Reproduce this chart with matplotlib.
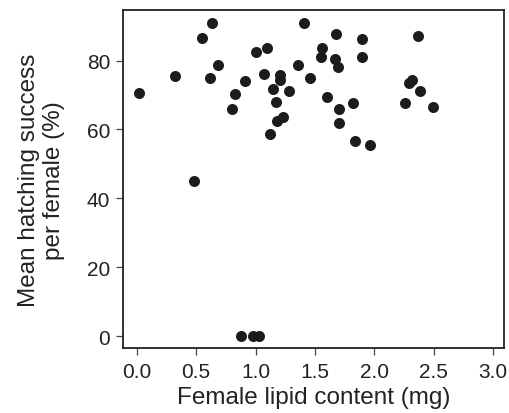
import numpy as np
import matplotlib.pyplot as plt

plt.rcParams['font.family'] = ['Liberation Sans', 'DejaVu Sans']

# Female lipid content (mg) and mean hatching success (%)
lipid = np.array([0.63, 0.55, 1.41, 1.00, 1.10, 1.56, 1.55, 0.68, 0.32, 0.62,
                  1.36, 1.07, 0.91, 1.21, 1.21, 1.46, 0.02, 0.83, 1.15, 1.28,
                  1.60, 1.17, 0.80, 1.23, 1.18, 1.12, 0.48, 1.68, 1.90, 2.37,
                  1.67, 1.69, 1.90, 2.32, 2.29, 2.38, 1.82, 1.70, 2.26, 2.49,
                  1.70, 1.84, 1.96, 0.88, 0.98, 1.03])
hatching = np.array([90.8, 86.6, 90.9, 82.5, 83.5, 83.6, 81.0, 78.8, 75.4, 75.0,
                     78.7, 76.1, 74.2, 75.9, 74.3, 74.9, 70.7, 70.3, 71.7, 71.2,
                     69.3, 67.9, 65.8, 63.7, 62.4, 58.8, 45.0, 87.8, 86.2, 87.2,
                     80.4, 78.2, 81.0, 74.4, 73.6, 71.2, 67.8, 65.8, 67.6, 66.5,
                     61.8, 56.7, 55.5, 0.0, 0.0, 0.0])

x_ticks = [0.0, 0.5, 1.0, 1.5, 2.0, 2.5, 3.0]
y_ticks = [0, 20, 40, 60, 80]

fig = plt.figure(figsize=(5.1, 4.14), dpi=100)
ax = fig.add_axes([0.2406, 0.156, 0.988 - 0.2406, 0.973 - 0.156])

ax.scatter(lipid, hatching, s=63, color='#1c1c1e', linewidths=0, zorder=3)

ax.set_xlim(-0.118, 3.09)
ax.set_ylim(-3.5, 94.6)
ax.set_xticks(x_ticks)
ax.set_xticklabels([f"{t:.1f}" for t in x_ticks])
ax.set_yticks(y_ticks)

for sp in ax.spines.values():
    sp.set_linewidth(1.3)
    sp.set_color('#222222')
ax.tick_params(length=5, width=0.9, labelsize=15, color='#444444',
               labelcolor='#222222')
ax.tick_params(axis='x', pad=5)
ax.tick_params(axis='y', pad=4)

ax.set_xlabel("Female lipid content (mg)", fontsize=17.5, color='#222222', labelpad=3.5)
ax.set_ylabel("Mean hatching success\nper female (%)", fontsize=17.5,
              color='#222222', labelpad=16, linespacing=1.15)

fig.savefig("out.png", dpi=100)
